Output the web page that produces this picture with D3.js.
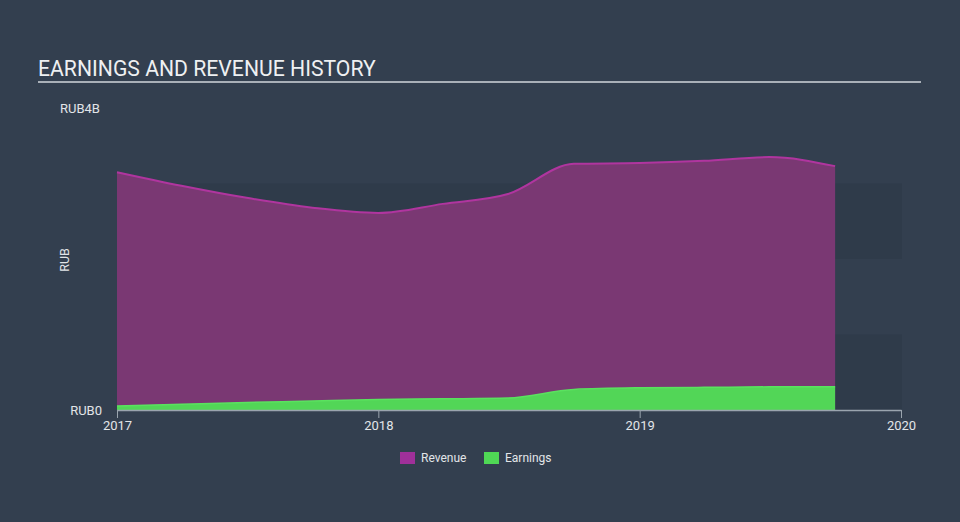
<!DOCTYPE html>
<html>
<head>
<meta charset="utf-8">
<script src="https://cdn.jsdelivr.net/npm/d3@7"></script>
<style>
  html, body { margin: 0; padding: 0; background: #333f4f; }
  svg { display: block; font-family: Roboto, "Noto Sans", sans-serif; }
</style>
</head>
<body>
<svg id="chart" width="960" height="522"></svg>
<script>
// ---- data ----
const dates = ["2017-01-01","2017-04-01","2017-07-01","2017-10-01","2018-01-01","2018-04-01",
               "2018-07-01","2018-10-01","2019-01-01","2019-04-01","2019-07-01","2019-10-01"];
const revenue  = [3.15, 2.97, 2.81, 2.68, 2.61, 2.73, 2.86, 3.26, 3.27, 3.30, 3.35, 3.23]; // RUB billions
const earnings = [0.053, 0.075, 0.099, 0.119, 0.139, 0.148, 0.159, 0.272, 0.294, 0.300, 0.307, 0.309];
const xTickLabels = ["2017", "2018", "2019", "2020"];
const yTickValues = [0, 4];
const yTickLabels = ["RUB0", "RUB4B"];
const bandRanges = [[0, 1], [2, 3]];
const seriesNames = ["Revenue", "Earnings"];
const seriesColors = { Revenue: "#a0309a", Earnings: "#4fd855" };

// ---- setup ----
const svg = d3.select("#chart");
const parse = d3.timeParse("%Y-%m-%d");
const dd = dates.map(parse);

const x = d3.scaleTime()
  .domain([parse("2017-01-01"), parse("2020-01-01")])
  .range([117, 901]);
const y = d3.scaleLinear().domain([0, 4]).range([410, 108]);

// title
svg.append("text")
  .attr("x", 38).attr("y", 76)
  .attr("fill", "#eef0f2")
  .attr("font-size", 21.2)
  .text("EARNINGS AND REVENUE HISTORY");
svg.append("line")
  .attr("x1", 38).attr("x2", 921).attr("y1", 82).attr("y2", 82)
  .attr("stroke", "#a9b0b8").attr("stroke-width", 2);

// background bands
svg.selectAll("rect.band").data(bandRanges).enter().append("rect")
  .attr("class", "band")
  .attr("x", x.range()[0]).attr("width", x.range()[1] - x.range()[0] + 1)
  .attr("y", d => y(d[1])).attr("height", d => y(d[0]) - y(d[1]))
  .attr("fill", "#2f3b4a");

// areas
const curve = d3.curveMonotoneX;
const revData = dd.map((d, i) => ({ d, v: revenue[i] }));
const earnData = dd.map((d, i) => ({ d, v: earnings[i] }));

const area = d3.area().x(p => x(p.d)).y0(y(0)).y1(p => y(p.v)).curve(curve);
const line = d3.line().x(p => x(p.d)).y(p => y(p.v)).curve(curve);

svg.append("path").datum(revData).attr("d", area).attr("fill", "#7a3873");
svg.append("path").datum(revData).attr("d", line)
  .attr("fill", "none").attr("stroke", "#b0359f").attr("stroke-width", 2);

svg.append("path").datum(earnData).attr("d", area).attr("fill", "#52d657");
svg.append("path").datum(earnData).attr("d", line)
  .attr("fill", "none").attr("stroke", "#5ae25f").attr("stroke-width", 1.5);

// x axis
const xTicks = xTickLabels.map(t => parse(t + "-01-01"));
const xAxis = d3.axisBottom(x).tickValues(xTicks).tickFormat((d, i) => xTickLabels[i])
  .tickSize(8).tickSizeOuter(0).tickPadding(3);
const gx = svg.append("g").attr("transform", `translate(0,${y(0)})`).call(xAxis);
gx.select(".domain").attr("stroke", "#9aa4ae").attr("stroke-width", 1.5);
gx.selectAll(".tick line").attr("stroke", "#9aa4ae");
gx.selectAll(".tick text").attr("fill", "#e2e5e8").attr("font-size", 13)
  .attr("font-family", "Roboto, sans-serif");

// y labels
svg.append("text").attr("x", 60).attr("y", y(yTickValues[1])).attr("dy", "0.35em")
  .attr("fill", "#e2e5e8").attr("font-size", 13).text(yTickLabels[1]);
svg.append("text").attr("x", 102).attr("y", y(yTickValues[0])).attr("dy", "0.35em")
  .attr("text-anchor", "end")
  .attr("fill", "#e2e5e8").attr("font-size", 13).text(yTickLabels[0]);
svg.append("text")
  .attr("transform", "translate(65,260) rotate(-90)")
  .attr("text-anchor", "middle").attr("dy", "0.35em")
  .attr("fill", "#e2e5e8").attr("font-size", 12.5).text("RUB");

// legend
const legendX = [400, 484];
const lg = svg.selectAll("g.leg").data(seriesNames).enter().append("g")
  .attr("class", "leg")
  .attr("transform", (d, i) => `translate(${legendX[i]},452)`);
lg.append("rect").attr("width", 15).attr("height", 12).attr("fill", d => seriesColors[d]);
lg.append("text").attr("x", 21).attr("y", 6).attr("dy", "0.35em")
  .attr("fill", "#e2e5e8").attr("font-size", 12).text(d => d);
</script>
</body>
</html>
